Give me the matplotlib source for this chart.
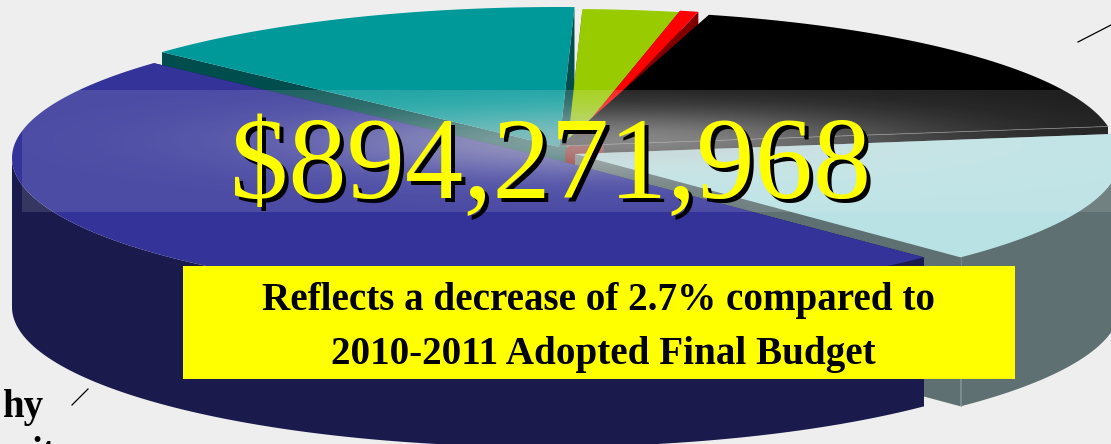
import numpy as np
import matplotlib
matplotlib.use('Agg')
import matplotlib.pyplot as plt
from matplotlib.patches import Polygon, Rectangle

# shares of the pie in percent, counter-clockwise from the light blue slice
slice_names = ['light', 'black', 'red', 'green', 'teal', 'blue']
slice_shares = [15.3, 18.3, 0.55, 2.95, 13.6, 49.3]
total_label = '$894,271,968'
note_lines = ['Reflects a decrease of 2.7% compared to', '2010-2011 Adopted Final Budget']
clipped_labels = ['hy', 'it']

# style
top_colors = ['#b9e2e4', '#000000', '#ff0000', '#99cc00', '#009999', '#333399']
wall_colors = ['#5e7072', '#000000', '#800000', '#4d6600', '#004d4d', '#1a1a4d']
# centre of each outer arc, and where the slice's straight edges meet
centers = [(580, 158), (576, 150.5), (565.5, 147.5), (567, 149), (559, 147), (547, 158)]
tips = [(575, 154), (560, 146), (565.5, 150), (567, 151), (559, 147), (553, 159)]
radii_x = [540, 540, 540, 540, 540, 535]
draw_order = [4, 3, 2, 1, 0, 5]
START_ANGLE = -45.2
RADIUS_Y = 140
DEPTH = 149

W, H = 1111, 444
fig = plt.figure(figsize=(W / 100, H / 100), dpi=100, facecolor='#eeeeee')
ax = fig.add_axes([0, 0, 1, 1])
ax.set_axis_off()


def arc_points(center, rx, a0, a1):
    t = np.radians(np.linspace(a0, a1, 200))
    return np.column_stack([center[0] + rx * np.cos(t), center[1] - RADIUS_Y * np.sin(t)])


def draw_slice(i, a0, a1):
    c = np.array(centers[i], dtype=float)
    tip = np.array(tips[i], dtype=float)
    down = np.array([0, DEPTH])
    arc = arc_points(c, radii_x[i], a0, a1)

    if slice_names[i] == 'black':
        # only the part of this face right of the centre can be seen
        start = tip + 0.08 * (arc[0] - tip)
        face = [start, arc[0], arc[0] + down, start + down]
        ax.add_patch(Polygon(face, closed=True, fc=wall_colors[i], ec='none', zorder=2))
    else:
        for corner in (arc[0], arc[-1]):
            face = [tip, corner, corner + down, tip + down]
            ax.add_patch(Polygon(face, closed=True, fc=wall_colors[i], ec='none', zorder=2))

    # outer wall, front half only
    front = arc[arc[:, 1] >= c[1]]
    if len(front) > 1:
        wall = np.vstack([front, (front + down)[::-1]])
        ax.add_patch(Polygon(wall, closed=True, fc=wall_colors[i], ec='none', zorder=2))

    top = np.vstack([tip, arc])
    ax.add_patch(Polygon(top, closed=True, fc=top_colors[i], ec='none', zorder=2))
    return tip, arc


angles = START_ANGLE + np.concatenate([[0], np.cumsum(slice_shares)]) * 3.6
for i in draw_order:
    tip, arc = draw_slice(i, angles[i], angles[i + 1])
    if slice_names[i] == 'black':
        ax.plot([tip[0], arc[0, 0]], [tip[1], arc[0, 1]], color='#777777', lw=0.5, zorder=2)
    if slice_names[i] == 'light':
        # seam on the corner of the light blue slice
        ax.plot([arc[0, 0], arc[0, 0]], [arc[0, 1], arc[0, 1] + DEPTH], color='#7f9092', lw=0.6, zorder=2)

# soft highlight band behind the total
xx, yy = np.meshgrid(np.linspace(22, 1111, 300), np.linspace(91, 212, 120))
alpha = 0.13 + 0.52 * np.exp(-((xx - 620) / 290) ** 2) * np.exp(-((yy - 142) / 32) ** 2)
band = np.zeros(xx.shape + (4,))
shade = 0.82 + 0.18 * (1 - alpha / alpha.max())
band[..., 0] = shade
band[..., 1] = shade
band[..., 2] = shade
band[..., 3] = alpha
ax.imshow(band, extent=(22, 1111, 212, 91), aspect='auto', zorder=3, interpolation='bilinear')

# total with hard shadow
ax.text(555, 202, total_label, color='black', fontsize=84, family='Liberation Serif',
        ha='center', va='baseline', zorder=4)
ax.text(551, 198, total_label, color='#ffff00', fontsize=84, family='Liberation Serif',
        ha='center', va='baseline', zorder=5)

# yellow note
ax.add_patch(Rectangle((183, 266), 832, 113, fc='#ffff00', ec='none', zorder=6))
ax.text(599, 310, note_lines[0], fontsize=28.2, fontweight='bold', family='Liberation Serif',
        ha='center', va='baseline', color='black', zorder=7)
ax.text(603, 364, note_lines[1], fontsize=28.2, fontweight='bold', family='Liberation Serif',
        ha='center', va='baseline', color='black', zorder=7)

# pieces of the outer labels and leader lines
ax.plot([72, 88], [405, 389], color='black', lw=0.9, zorder=7)
ax.plot([1078, 1111], [42, 25], color='black', lw=0.9, zorder=7)
ax.text(43, 417, clipped_labels[0], fontsize=28, fontweight='bold', family='Liberation Serif',
        ha='right', va='baseline', color='black', zorder=7)
ax.text(55, 464, clipped_labels[1], fontsize=28, fontweight='bold', family='Liberation Serif',
        ha='right', va='baseline', color='black', zorder=7)

ax.set_xlim(0, W)
ax.set_ylim(H, 0)
fig.savefig('out.png', dpi=100, facecolor=fig.get_facecolor())
